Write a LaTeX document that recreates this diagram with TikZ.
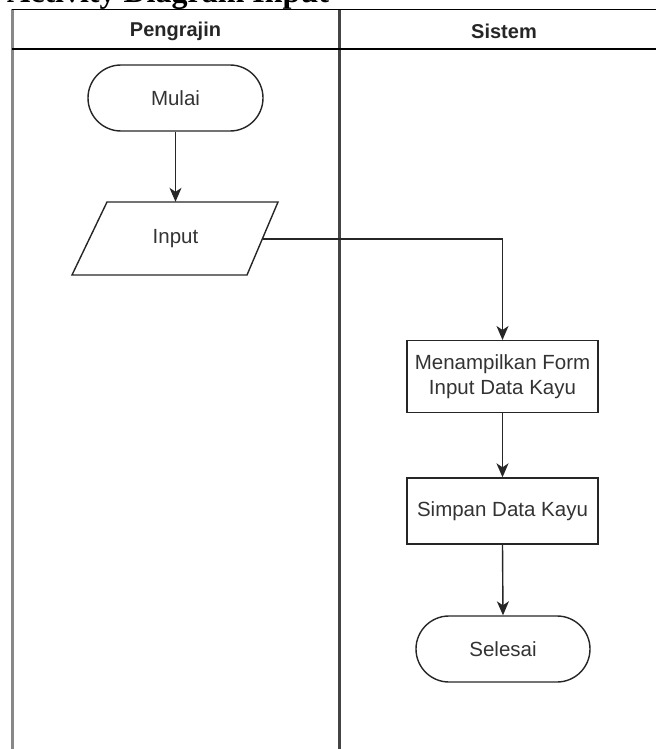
\documentclass[tikz,border=0pt]{standalone}
\usepackage{fontspec}
\setmainfont{Liberation Sans}
\newfontfamily\titleserif{Liberation Serif}
\usetikzlibrary{arrows.meta}
\definecolor{txt}{HTML}{333333}
\definecolor{lanegray}{HTML}{888888}
\definecolor{divgray}{HTML}{444444}
\tikzset{
  boxline/.style={draw=black!85, line width=1.4pt},
  terminal/.style={boxline, rectangle, rounded corners=33pt, minimum width=174pt, minimum height=66pt, inner sep=0pt, text=txt, font=\fontsize{20.5}{24}\selectfont},
  procbox/.style={boxline, rectangle, minimum width=191pt, inner sep=0pt, text=txt, align=center, font=\fontsize{20.5}{25}\selectfont},
  headtext/.style={text=black!85, font=\fontsize{20}{24}\selectfont\bfseries},
  flow/.style={draw=black!85, line width=1.4pt, -{Stealth[length=14pt,width=12pt,inset=4pt]}},
}
\begin{document}
\begin{tikzpicture}[x=1pt,y=-1pt]
\useasboundingbox (0,0) rectangle (656,749);
% cut-off title
\node[anchor=base west, inner sep=0pt, font=\titleserif\fontsize{32}{36}\selectfont\bfseries] (title) at (7,2.5) {Activity Diagram Input};
% swimlanes
\draw[lanegray, line width=3pt] (12,9.5) -- (12,749);
\draw[divgray, line width=3.5pt] (339.5,9.5) -- (339.5,749);
\draw[black, line width=1.6pt] (12,9.5) -- (656,9.5);
\draw[black, line width=1.6pt] (12,49) -- (656,49);
\node[headtext] (h1) at (175.5,31) {Pengrajin};
\node[headtext] (h2) at (504,31) {Sistem};
% nodes
\node[terminal, minimum width=175pt] (mulai) at (175.5,98) {Mulai};
\draw[boxline, line join=miter] (107,202) -- (278,202) -- (247,275) -- (72,275) -- cycle;
\node[minimum width=171pt, minimum height=73pt, inner sep=0pt, text=txt, font=\fontsize{20.5}{24}\selectfont] (input) at (175.5,238.5) {Input};
\coordinate (inR) at (263,239);
\node[procbox, minimum height=72pt] (tampil) at (502.5,376.7) {Menampilkan Form\\Input Data Kayu};
\node[procbox, minimum height=66pt] (simpan) at (502.5,511) {Simpan Data Kayu};
\node[terminal] (selesai) at (503,649) {Selesai};
% connectors
\draw[flow] (mulai.south) -- (input.north);
\draw[flow] (inR) -| (tampil.north);
\draw[flow] (tampil.south) -- (simpan.north);
\draw[flow] (simpan.south) -- (selesai.north);
\end{tikzpicture}
\end{document}
